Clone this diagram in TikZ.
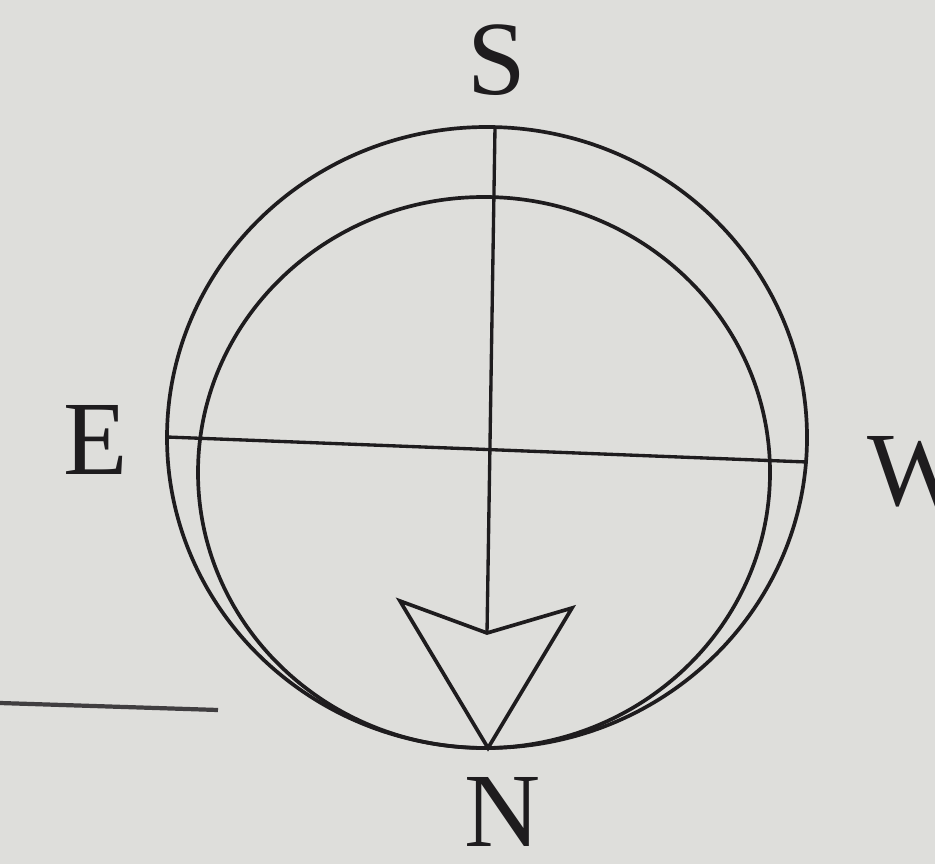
\documentclass[tikz,border=0pt]{standalone}
\usepackage{fontspec}
\setmainfont{Liberation Serif}
\usepackage{xcolor}
\usetikzlibrary{positioning,calc}
\definecolor{cppaper}{RGB}{222,222,219}
\definecolor{cpink}{RGB}{30,28,30}
\tikzset{
cpring/.style={draw=cpink,line width=2.1pt},
cpaxis/.style={draw=cpink,line width=1.9pt},
cpneedle/.style={draw=cpink,line width=2.1pt,line join=miter,fill=cppaper},
cpletter/.style={font=\fontsize{60}{62}\selectfont,text=cpink,inner sep=0pt},
cprule/.style={draw=cpink!85,line width=2.4pt}
}
\begin{document}
\begin{tikzpicture}[
x=0.02cm,
y=-0.02cm
]
\fill[cppaper] (0,0) rectangle (935,864);
\useasboundingbox (0,0) rectangle (935,864);
% rings
\coordinate (outerc) at (487,437.5);
\coordinate (innerc) at (484,472.5);
\draw[cpring] (outerc) ellipse [x radius=320,y radius=310.5];
\draw[cpring] (innerc) ellipse [x radius=286,y radius=275.5];
% axes
\coordinate (etip) at (167,437);
\coordinate (wtip) at (807,462);
\coordinate (stip) at (495,127);
\coordinate (notch) at (487,633);
\draw[cpaxis] (etip)--(wtip);
\draw[cpaxis] (stip)--(notch);
% needle head
\coordinate (barbl) at (400,601);
\coordinate (barbr) at (572,608);
\coordinate (ntip) at (488,748);
\draw[cpneedle] (notch)--(barbl)--(ntip)--(barbr)--cycle;
% letters
\node[cpletter] (south) at (497,60) {S};
\node[cpletter] (east) at (96,440) {E};
\node[cpletter] (west) at (917,472) {W};
\node[cpletter] (north) at (503,812) {N};
% answer line
\coordinate (rulel) at (0,703);
\coordinate (ruler) at (218,710);
\draw[cprule] (rulel)--(ruler);
\end{tikzpicture}
\end{document}
